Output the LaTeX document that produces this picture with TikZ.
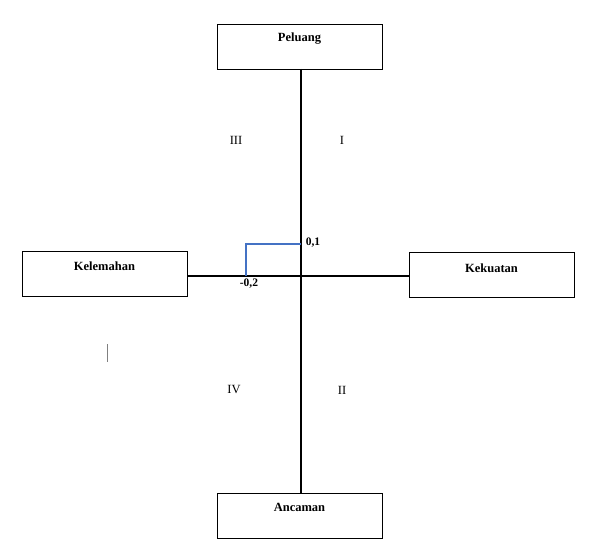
\documentclass[tikz,border=0pt]{standalone}
\usepackage{fontspec}
\setmainfont{Liberation Serif}
\usetikzlibrary{shapes}

\tikzset{
  kotak/.style={shape=rectangle,draw=black,line width=0.6pt,minimum width=165pt,minimum height=45pt,anchor=north west,inner sep=0pt},
  judul/.style={font=\fontsize{12.5}{14}\selectfont\bfseries,anchor=center},
  sumbu/.style={-,draw=black,line width=1.6pt},
  kuadran/.style={font=\fontsize{12.5}{14}\selectfont,anchor=center},
  nilai/.style={font=\fontsize{11.5}{13}\selectfont\bfseries,anchor=center,inner sep=0pt}
}

\begin{document}
\begin{tikzpicture}[x=1pt,y=-1pt]
\useasboundingbox (0,0) rectangle (590,543);
\node[kotak] (peluang) at (217,24) {};
\node[kotak] (kelemahan) at (22,251) {};
\node[kotak] (kekuatan) at (409,252) {};
\node[kotak] (ancaman) at (217,493) {};

\node[judul] (tpeluang) at (299.5,39) {Peluang};
\node[judul] (tkelemahan) at (104.5,266) {Kelemahan};
\node[judul] (tkekuatan) at (491.5,268) {Kekuatan};
\node[judul] (tancaman) at (299.5,507) {Ancaman};

\coordinate (atas) at (301,69);
\coordinate (bawah) at (301,493);
\coordinate (kiri) at (187,276);
\coordinate (kanan) at (409,276);
\path [sumbu] (atas) edge node {} (bawah);
\path [sumbu] (kiri) edge node {} (kanan);

\coordinate (y1) at (301,244);
\coordinate (s1) at (246,244);
\coordinate (x1) at (246,276);
\draw [draw={rgb,255:red,68;green,114;blue,196},line width=1.2pt] (y1) -- (s1) -- (x1);
\node[nilai] (n01) at (313,243) {0,1};
\node[nilai] (n02) at (249,284) {-0,2};

\node[kuadran] (k3) at (236,140) {III};
\node[kuadran] (k1) at (342,140) {I};
\node[kuadran] (k4) at (234,390) {IV};
\node[kuadran] (k2) at (342,390) {II};

\coordinate (g1) at (107,344);
\coordinate (g2) at (107,362);
\draw [draw=gray,line width=0.8pt] (g1) -- (g2);
\end{tikzpicture}
\end{document}
